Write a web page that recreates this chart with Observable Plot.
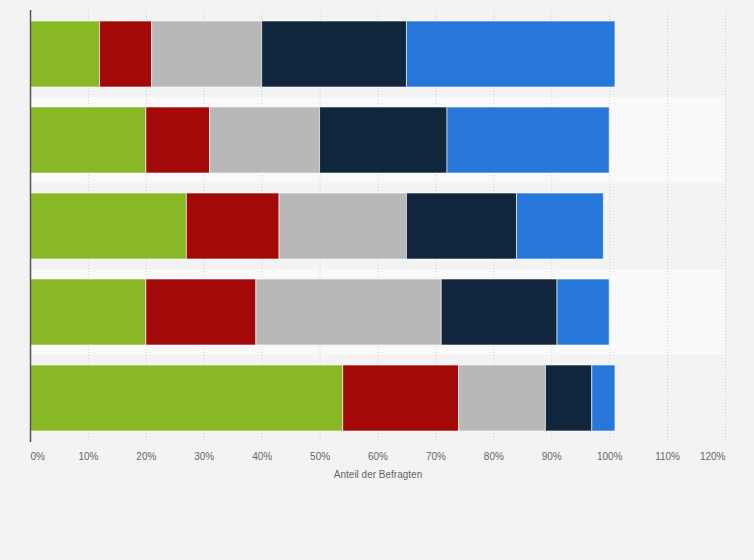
<!DOCTYPE html>
<html>
<head>
<meta charset="utf-8">
<script src="https://cdn.jsdelivr.net/npm/d3@7"></script>
<script src="https://cdn.jsdelivr.net/npm/@observablehq/plot@0.6"></script>
<style>
  html, body { margin: 0; padding: 0; background: #f3f3f3; }
  #chart { width: 754px; height: 560px; }
</style>
</head>
<body>
<div id="chart"></div>
<script>
const categories = ["Gruppe 1", "Gruppe 2", "Gruppe 3", "Gruppe 4", "Gruppe 5"];
const seriesNames = ["Antwort 1", "Antwort 2", "Antwort 3", "Antwort 4", "Antwort 5"];
const seriesColors = ["#88b924", "#a30909", "#b8b8b8", "#10263c", "#2777da"];
const green = [12, 20, 27, 20, 54];
const red = [9, 11, 16, 19, 20];
const gray = [19, 19, 22, 32, 15];
const navy = [25, 22, 19, 20, 8];
const blue = [36, 28, 15, 9, 4];
const tickValues = [0, 10, 20, 30, 40, 50, 60, 70, 80, 90, 100, 110, 120];
const axisTitle = "Anteil der Befragten";

const seriesValues = [green, red, gray, navy, blue];
const table = [];
seriesNames.forEach((s, i) => {
  categories.forEach((c, j) => {
    table.push({category: c, series: s, value: seriesValues[i][j]});
  });
});
const bands = categories.map((c, i) => ({category: c, light: i % 2 === 1}));

const font = "'Liberation Sans', Arial, sans-serif";
const chart = Plot.plot({
  width: 754,
  height: 560,
  marginLeft: 30,
  marginRight: 29,
  marginTop: 10,
  marginBottom: 118,
  style: {background: "#f3f3f3", fontFamily: font, fontSize: "10px"},
  x: {domain: [0, 120], axis: null},
  y: {domain: categories, axis: null, paddingInner: 0, paddingOuter: 0},
  color: {domain: seriesNames, range: seriesColors},
  marks: [
    Plot.barX(bands, {y: "category", x1: 0, x2: 120, fill: d => d.light ? "#f9f9f9" : "#f3f3f3"}),
    Plot.gridX(tickValues.slice(1), {stroke: "#d0d0d0", strokeOpacity: 1, strokeDasharray: "1,2"}),
    Plot.barX(table, Plot.stackX({
      y: "category", x: "value", fill: "series", order: null,
      insetTop: 10, insetBottom: 10,
      stroke: "#ffffff", strokeOpacity: 0.6, strokeWidth: 1
    })),
    Plot.ruleX([0], {stroke: "#555", strokeWidth: 1.5}),
    Plot.text(tickValues.slice(1, -1), {
      x: d => d, frameAnchor: "bottom", dy: 17, text: d => d + "%",
      fill: "#666", fontSize: 10
    }),
    Plot.text(tickValues.slice(0, 1), {
      x: d => d, frameAnchor: "bottom", dy: 17, text: d => d + "%",
      fill: "#666", fontSize: 10, textAnchor: "start"
    }),
    Plot.text(tickValues.slice(-1), {
      x: d => d, frameAnchor: "bottom", dy: 17, text: d => d + "%",
      fill: "#666", fontSize: 10, textAnchor: "end"
    }),
    Plot.text([axisTitle], {
      frameAnchor: "bottom", dy: 35, text: d => d, fill: "#666", fontSize: 10
    })
  ]
});
document.getElementById("chart").appendChild(chart);
</script>
</body>
</html>
